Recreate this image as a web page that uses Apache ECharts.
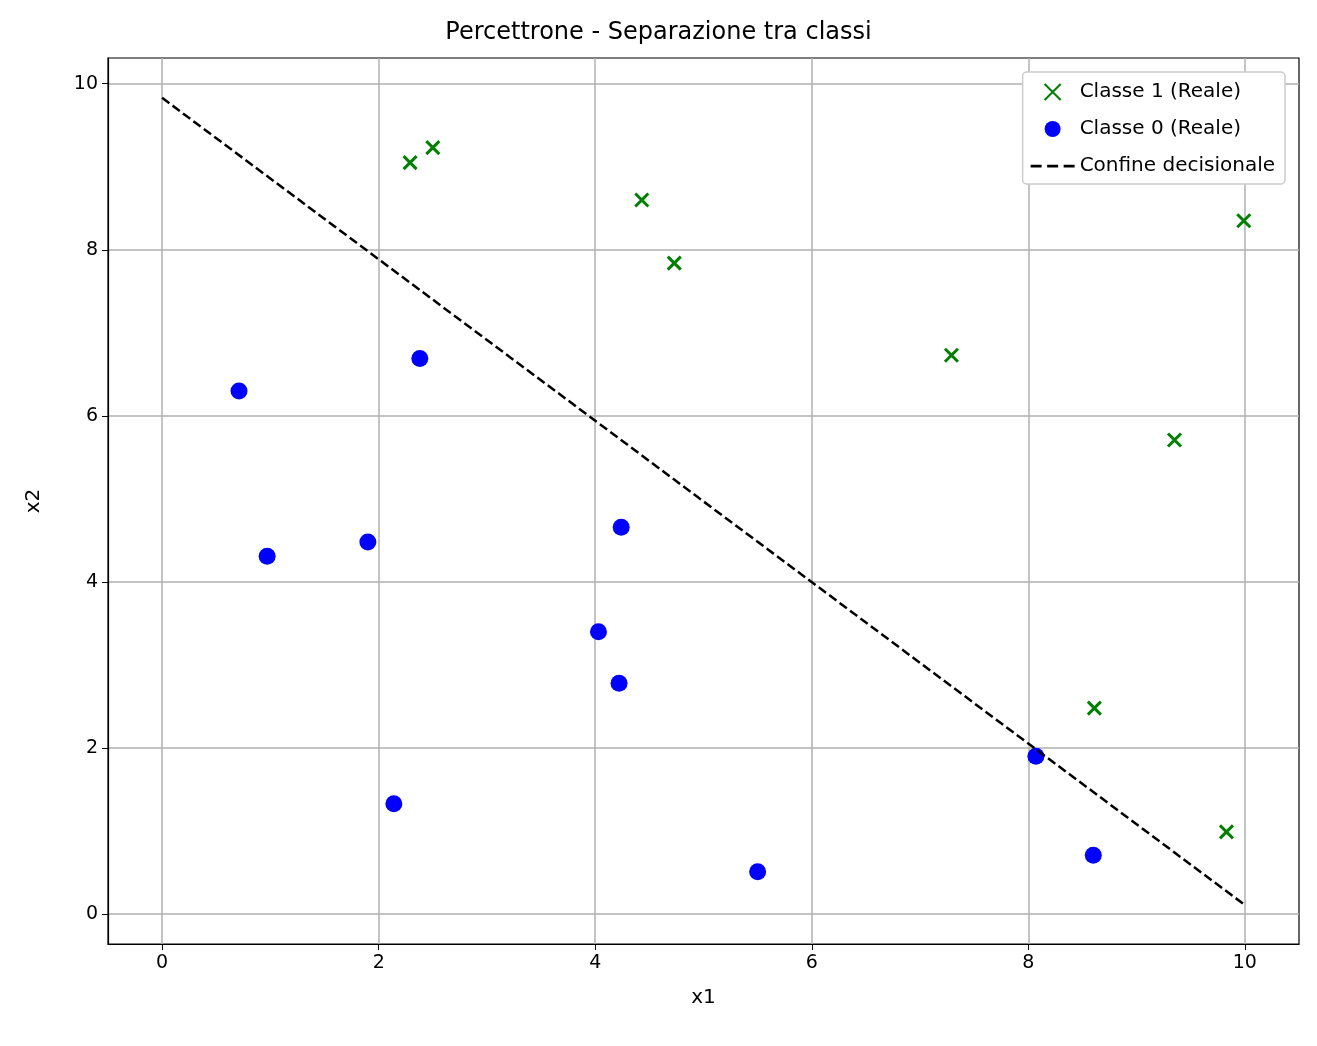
<!DOCTYPE html>
<html><head><meta charset="utf-8">
<script src="https://cdn.jsdelivr.net/npm/echarts@6/dist/echarts.min.js"></script>
<style>html,body{margin:0;padding:0;background:#fff}#c{width:1317px;height:1046px}</style>
</head><body><div id="c"></div>
<script>
// punti
var classe1 = [[2.29,9.05],[2.50,9.23],[4.43,8.60],[4.73,7.84],[7.29,6.73],[9.35,5.71],[9.99,8.35],[8.61,2.48],[9.83,0.99]];
var classe0 = [[0.71,6.30],[2.38,6.69],[0.97,4.31],[1.90,4.48],[4.24,4.66],[4.03,3.40],[4.22,2.78],[2.14,1.33],[5.50,0.51],[8.07,1.90],[8.60,0.71]];
var confine = [[0,9.83],[10,0.11]];
var tickX = [0,2,4,6,8,10];
var tickY = [0,2,4,6,8,10];

var F = 'DejaVu Sans';
var crossPath = 'path://M0,0L10,10M10,0L0,10';

function asse(name, min, max, ticks, gap) {
    return {
        type: 'value', name: name, nameLocation: 'middle', nameGap: gap,
        nameTextStyle: {fontFamily: F, fontSize: 20, color: '#000'},
        min: min, max: max,
        axisLine: {show: true, onZero: false, lineStyle: {color: '#000', width: 1.2}},
        axisTick: {show: true, customValues: ticks, length: 6, lineStyle: {color: '#000'}},
        axisLabel: {customValues: ticks, fontFamily: F, fontSize: 19, color: '#000', margin: 10},
        splitLine: {show: true, lineStyle: {color: '#b0b0b0', width: 1.5}}
    };
}

var chart = echarts.init(document.getElementById('c'));
chart.setOption({
    animation: false,
    title: {text: 'Percettrone - Separazione tra classi', left: 'center', top: 16,
        textStyle: {fontFamily: F, fontSize: 24, fontWeight: 'normal', color: '#000'}},
    grid: {left: 108, right: 18, top: 58, bottom: 102,
        show: true, borderColor: '#000', borderWidth: 1.2},
    legend: {
        right: 32, top: 72, orient: 'vertical', itemGap: 17,
        backgroundColor: '#fff', borderColor: '#ccc', borderWidth: 1.5, borderRadius: 4,
        padding: [10, 10, 8, 8], itemWidth: 44, itemHeight: 16,
        textStyle: {fontFamily: F, fontSize: 20, color: '#000'},
        data: [
            {name: 'Classe 1 (Reale)'},
            {name: 'Classe 0 (Reale)'},
            {name: 'Confine decisionale', icon: 'path://M0,0L8,0L8,2L0,2ZM12,0L20,0L20,2L12,2ZM24,0L32,0L32,2L24,2Z'}
        ]
    },
    xAxis: asse('x1', -0.5, 10.5, tickX, 44),
    yAxis: asse('x2', -0.36, 10.31, tickY, 64),
    series: [
        {name: 'Classe 1 (Reale)', type: 'scatter', data: classe1, symbol: crossPath, symbolSize: 13,
            itemStyle: {color: 'rgba(0,0,0,0)', borderColor: '#008000', borderWidth: 3, opacity: 1}, z: 3},
        {name: 'Classe 0 (Reale)', type: 'scatter', data: classe0, symbol: 'circle', symbolSize: 17,
            itemStyle: {color: '#0000ff', opacity: 1}, z: 3},
        {name: 'Confine decisionale', type: 'line', data: confine, symbol: 'none',
            lineStyle: {color: '#000', width: 2.5, type: [9, 4]}, itemStyle: {color: '#000'}, z: 4}
    ]
});
</script></body></html>
